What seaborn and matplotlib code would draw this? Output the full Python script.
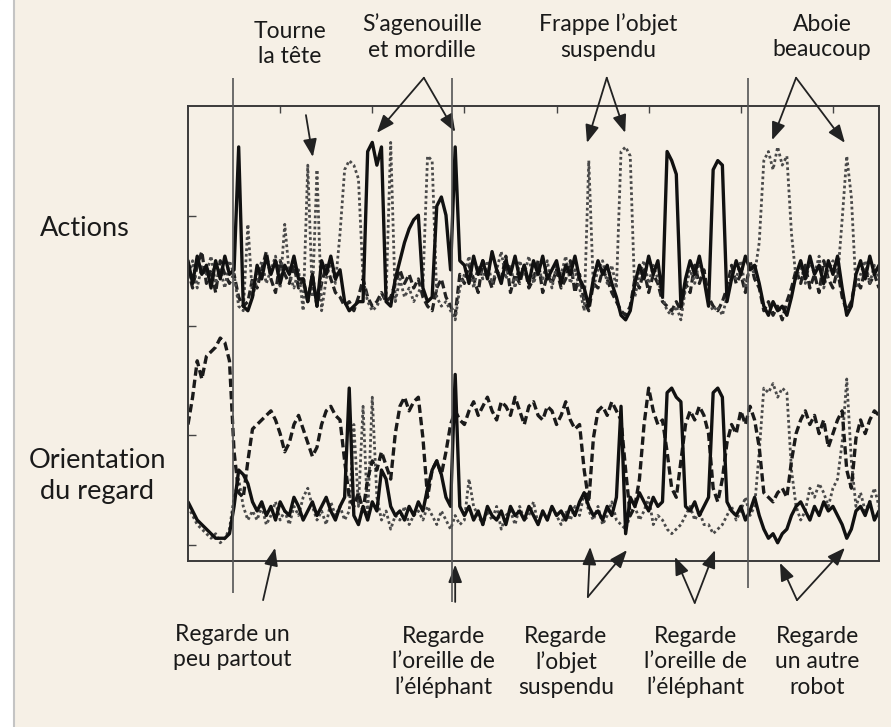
import numpy as np
import pandas as pd
import matplotlib.pyplot as plt
from matplotlib.patches import Rectangle
from matplotlib.lines import Line2D
import seaborn as sns

# temps (unités arbitraires) et traces
temps = np.arange(151)

actions_plein = [66, 61, 67, 63, 65, 60, 66, 62, 67, 63,
                 64, 91, 56, 55, 58,
                 65, 62, 67, 63, 66, 61, 65, 63, 67, 62,
                 62, 57, 63, 56,
                 66, 63, 67, 62, 64,
                 57, 55, 56, 57,
                 57, 90, 92, 87, 91, 57, 56, 62,
                 66, 70, 73, 75, 76, 60,
                 57, 58, 78, 80, 76, 64, 91, 66,
                 65, 61, 67, 63, 66, 62, 68, 64, 61, 66, 63, 67, 62, 65, 61, 66, 63, 67, 62, 64, 66, 61, 65, 63, 67, 62,
                 60, 56, 62,
                 66, 63, 65, 61,
                 58, 54, 53, 55, 61,
                 65, 62, 67, 63, 66, 58,
                 90, 88, 85, 56, 62,
                 66, 63, 67, 62,
                 56, 86, 88, 87, 57, 62,
                 66, 63, 67, 64, 65, 61,
                 56, 54, 57, 55, 56, 54,
                 58, 63,
                 66, 62, 67, 63, 65, 61, 66, 63, 67,
                 60, 54, 56, 63,
                 66, 62, 67, 63, 65]

actions_points = [62, 66, 60, 65, 63, 67, 61, 64, 60, 66,
                  63, 56, 55, 74, 58,
                  62, 66, 61, 64, 67, 60,
                  74, 63, 60, 64,
                  55, 87, 58, 86, 55, 62,
                  66, 61,
                  72, 86, 88, 87, 84, 62,
                  57, 55, 56, 58,
                  58, 92, 57,
                  62, 58, 60, 57, 59, 61,
                  89, 88, 58,
                  56, 57,
                  55, 53, 60,
                  63, 67, 60, 65, 62, 66, 61, 64, 68, 62, 65, 60, 66, 63, 67, 61, 64, 62, 66, 60, 65, 63, 67, 61, 64, 60,
                  55, 88, 60,
                  64, 66, 61, 65,
                  60, 90, 91, 89, 58,
                  63, 66, 61, 65, 62, 58,
                  55, 54, 56, 53, 60,
                  64, 61, 66, 62,
                  57, 55, 56, 54, 58, 63,
                  62, 66, 60, 65, 63, 70,
                  88, 90, 86, 91, 87, 89,
                  72, 62,
                  65, 61, 66, 63, 67, 60, 64, 66, 62,
                  75, 89, 80, 60,
                  63, 66, 61, 65, 62]

actions_tirets = [64, 60, 65, 68, 61, 64, 59, 66, 63, 61,
                  63, 58, 56, 57, 62,
                  60, 64, 68, 62, 59, 66, 63, 61, 65, 60,
                  62, 57, 63, 56, 61, 65,
                  62, 59,
                  58, 56, 57, 55, 58, 62,
                  58, 56, 57, 59,
                  57, 58, 61,
                  64, 61, 63, 60, 62, 58,
                  56, 55, 60,
                  62, 58,
                  56, 54, 63,
                  61, 65, 62, 59, 66, 63, 60, 64, 62, 67, 59, 63, 61, 65, 60, 62, 66, 59, 63, 61, 64, 60, 62, 66, 59, 63,
                  57, 55, 61,
                  60, 64, 62, 59,
                  57, 55, 54, 56, 62,
                  60, 64, 59, 63, 61, 57,
                  56, 55, 57, 55, 61,
                  59, 65, 61, 64,
                  58, 56, 55, 57, 60, 65,
                  61, 63, 59, 66, 62, 60,
                  55, 57, 54, 56, 53, 57,
                  60, 64,
                  61, 65, 60, 63, 59, 66, 62, 60, 64,
                  58, 55, 57, 62,
                  60, 64, 61, 63, 60]

regard_tirets = [30, 36, 44, 40, 45, 46, 47, 49, 48, 44, 24, 15,
                 14, 22, 29, 30, 31, 32, 33, 31, 28, 24, 26, 30, 32, 29, 26, 23, 25, 30, 33, 34, 32, 31,
                 22, 14, 12, 15, 11, 18, 22, 20, 24, 21, 18, 28, 34, 36, 33, 35, 36, 27, 14, 20, 22, 19, 24, 30, 33,
                 31, 30, 33, 35, 32, 34, 36, 33, 31, 35, 34, 32, 36, 33, 30, 34, 35, 32, 31, 34, 33, 30, 32, 35, 31, 29,
                 30, 20, 13, 27, 33, 34, 32, 35, 33, 31, 20, 10, 12, 18, 30, 38, 33, 30, 31,
                 24, 16, 14, 22, 30, 33, 31, 34, 32, 28, 16, 13, 18, 26, 30, 28, 33, 30, 34, 31,
                 25, 15, 14, 13, 15, 16, 14, 22, 28, 31, 33, 30, 32, 28, 31, 25, 28, 31, 33, 20, 16, 27, 31, 28, 31, 33, 32]

regard_plein = [13, 11, 9, 8, 7, 6, 5, 5, 5, 6, 12, 20,
                19, 17, 13,
                11, 13, 10, 12, 9, 13, 11, 10, 14, 12, 9, 11, 13, 10, 12, 14, 11, 9, 12,
                14, 38, 10,
                8, 12, 9, 13, 11, 20, 18, 12, 10,
                11, 9, 12, 10, 13, 11, 16,
                20, 22, 19, 14,
                12, 41, 12,
                10, 12, 9, 11, 8, 12, 10, 9, 11, 8, 12, 10, 11, 9, 12, 10, 8, 11, 9, 12, 10, 11, 9, 12, 10, 13,
                15, 12, 10,
                11, 9, 12, 10, 14,
                34, 6, 14, 12,
                15, 13, 11, 14, 12, 13,
                37, 38, 36, 35, 12,
                11, 13, 10, 12,
                14, 37, 38, 36, 13,
                11, 10, 12, 9, 11, 14, 10,
                7, 5, 6, 4, 6, 7,
                10, 12, 13, 11, 9, 12, 10, 13, 11, 12, 10,
                8, 5, 7, 11,
                12, 10, 13, 9, 11]

regard_points = [12, 10, 8, 7, 6, 5, 6, 4, 5, 7,
                 14, 18, 12, 9, 11,
                 9, 12, 8, 10, 13, 9, 11, 8, 12, 10, 14, 16, 12, 9, 11, 8, 13, 10, 12, 9, 11,
                 30, 12, 34, 10, 36, 14,
                 9, 11, 7, 10,
                 9, 12, 8, 10, 11, 9, 12, 10, 8, 11, 9,
                 7, 10, 8,
                 9, 18, 12, 10, 8, 11, 9, 12, 7, 10, 11, 8, 12, 9, 10, 13, 8, 11, 9, 12, 10, 8, 11, 9, 12, 10,
                 15, 11, 9, 12, 8, 10, 13, 9,
                 8, 7, 10, 12,
                 9, 11, 14, 8, 10, 9,
                 7, 6, 7, 8, 10,
                 12, 9, 11, 8,
                 8, 6, 7, 8, 10,
                 12, 9, 11, 14, 10, 12, 24,
                 38, 37, 39, 36, 38, 37,
                 20, 12, 9, 11, 16, 14, 17, 15, 12, 16, 18,
                 26, 40, 22, 12,
                 15, 11, 13, 16, 12]

# changements de situation (traits verticaux)
coupures = [9.8, 57.3, 121.6]
coupures_bas = [-7.0, -9.0, -5.9]

# libellés
haut_textes = ["Tourne\nla tête", "S’agenouille\net mordille", "Frappe l’objet\nsuspendu", "Aboie\nbeaucoup"]
haut_fleches = [((25.6, 98.0), [(27.1, 88.8)]),
                ((51.2, 106.2), [(41.0, 94.1), (58.0, 94.3)]),
                ((90.9, 106.2), [(86.6, 91.9), (94.9, 94.1)]),
                ((132.0, 106.2), [(126.8, 92.5), (142.6, 91.9)])]
bas_textes = ["Regarde un\npeu partout", "Regarde\nl’oreille de\nl’éléphant", "Regarde\nl’objet\nsuspendu",
              "Regarde\nl’oreille de\nl’éléphant", "Regarde\nun autre\nrobot"]
bas_fleches = [((16.3, -8.6), [(18.9, 2.9)]),
               ((58.0, -9.0), [(58.0, -0.8)]),
               ((86.8, -7.9), [(87.3, 3.1), (95.3, 2.4)]),
               ((110.0, -9.2), [(105.7, 0.9), (114.4, 2.4)]),
               ((132.2, -8.6), [(128.5, -0.4), (142.6, 2.9)])]

df = pd.DataFrame({'t': temps,
                   'actions_plein': actions_plein, 'actions_points': actions_points,
                   'actions_tirets': actions_tirets, 'regard_tirets': regard_tirets,
                   'regard_plein': regard_plein, 'regard_points': regard_points})

sns.set_theme(style='ticks')
plt.rcParams['font.family'] = ['Lato', 'DejaVu Sans']

fond = '#f6f0e6'
fig = plt.figure(figsize=(8.91, 7.27), dpi=100, facecolor=fond)
fig.patches.append(Rectangle((0, 0), 13 / 891, 1, transform=fig.transFigure, color='white', zorder=0))
fig.lines.append(Line2D([13.5 / 891] * 2, [0, 1], transform=fig.transFigure, color='#c4c4c4', lw=1.5))

ax = fig.add_axes([188 / 891, 1 - 561 / 727, 691 / 891, 455 / 727])
ax.set_facecolor(fond)

styles = {
    'actions_tirets': dict(color='#222222', lw=2.3, dashes=(2.5, 1.2)),
    'actions_points': dict(color='#4a4a4a', lw=2.0, dashes=(1, 1)),
    'actions_plein': dict(color='#111111', lw=2.4),
    'regard_points': dict(color='#4a4a4a', lw=2.0, dashes=(1, 1)),
    'regard_tirets': dict(color='#1a1a1a', lw=2.4, dashes=(2.5, 1.2)),
    'regard_plein': dict(color='#111111', lw=2.4),
}
for nom, st in styles.items():
    sns.lineplot(data=df, x='t', y=nom, ax=ax, **st)

ax.vlines(coupures, coupures_bas, 106.2, color='#555555', lw=1.2, clip_on=False, zorder=5)

ax.set_xlim(0, 150)
ax.set_ylim(0, 100)
ax.set_xlabel('')
ax.set_ylabel('')
ax.set_xticks(range(20, 141, 20))
ax.set_yticks([3.5, 27.6, 51.7, 75.8])
ax.tick_params(axis='x', top=True, bottom=False, labeltop=False, labelbottom=False,
               direction='in', length=5, width=1, color='#444444')
ax.tick_params(axis='y', left=True, labelleft=False, direction='in', length=6, width=1, color='#444444')
for sp in ax.spines.values():
    sp.set_visible(True)
    sp.set_color('#3a3a3a')
    sp.set_linewidth(1.4)

fleche = dict(arrowstyle='-|>,head_length=0.9,head_width=0.35', color='#222222', lw=1.3,
              shrinkA=0, shrinkB=0)
for depart, cibles in haut_fleches + bas_fleches:
    for cible in cibles:
        ax.annotate('', xy=cible, xytext=depart, arrowprops=fleche, annotation_clip=False)

texte = dict(ha='center', va='center', color='#1a1a1a', multialignment='center', linespacing=1.25)
for lab, (x, y) in zip(haut_textes, [(290, 44), (422, 37), (608, 37), (822, 37)]):
    fig.text(x / 891, 1 - y / 727, lab, fontsize=16.5, **texte)
for lab, x in zip(bas_textes, [232, 443, 566, 695, 817]):
    y = 647 if lab.count('\n') == 1 else 662
    fig.text(x / 891, 1 - y / 727, lab, fontsize=16.5, **texte)
fig.text(85 / 891, 1 - 228 / 727, 'Actions', fontsize=19.5, **texte)
fig.text(97 / 891, 1 - 476 / 727, 'Orientation\ndu regard', fontsize=19.5, **texte)

fig.savefig('out.png', dpi=100, facecolor=fond)
